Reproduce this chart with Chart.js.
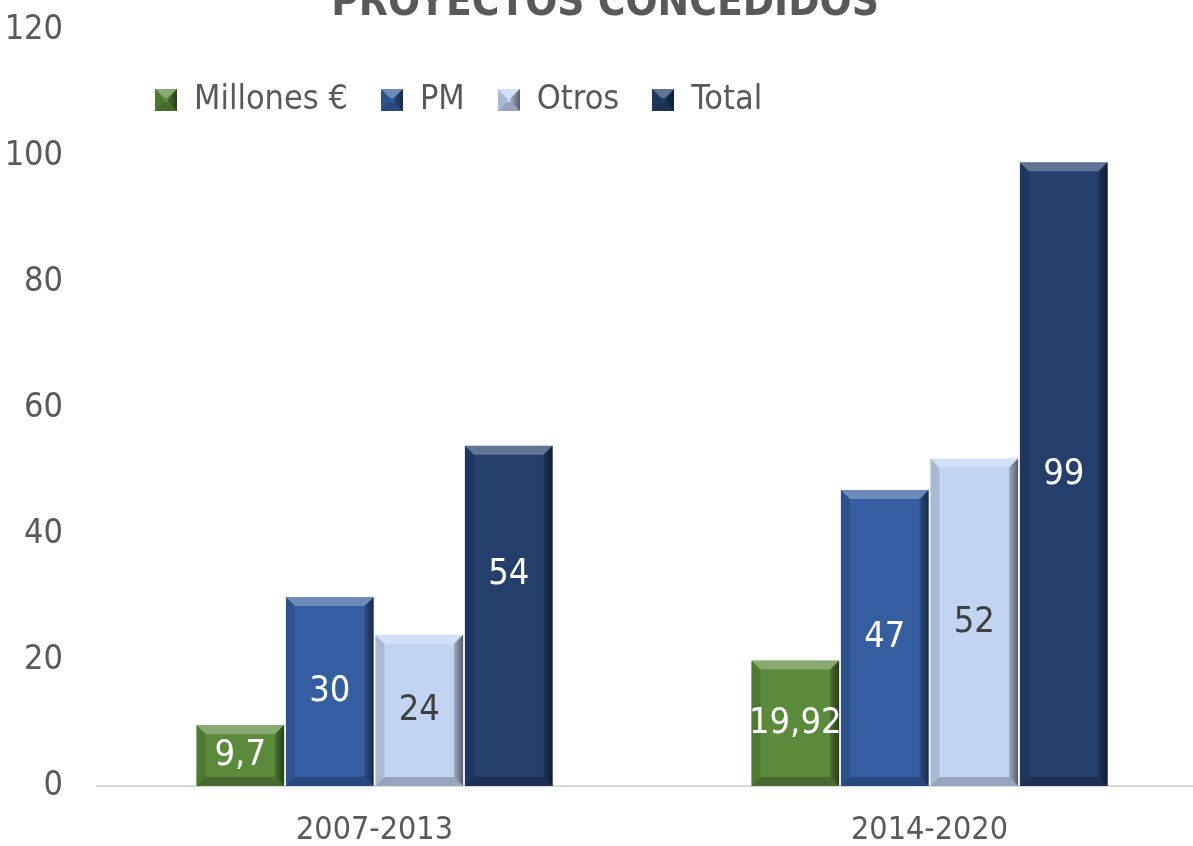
<!DOCTYPE html>
<html>
<head>
<meta charset="utf-8">
<script src="https://cdn.jsdelivr.net/npm/chart.js@4"></script>
<style>
    html, body { margin: 0; padding: 0; background: #fff; overflow: hidden; }
    #wrap { width: 1210px; height: 846px; position: relative; }
</style>
</head>
<body>
<div id="wrap"><canvas id="chart"></canvas></div>
<script>
const categories = ["2007-2013", "2014-2020"];
const seriesNames = ["Millones €", "PM", "Otros", "Total"];
const millonesValues = [9.7, 19.92];
const pmValues = [30, 47];
const otrosValues = [24, 52];
const totalValues = [54, 99];
const titleText = "PROYECTOS CONCEDIDOS";

const FONT = "'Liberation Sans Narrow', 'Arial Narrow', 'DejaVu Sans Condensed', sans-serif";
const TEXT_GREY = "#595959";

const colors = ["#5b8a3b", "#345ea0", "#c1d4f1", "#243f6c"];
const labelColors = ["#ffffff", "#ffffff", "#404040", "#ffffff"];
// small manual nudge of a few value labels (dataset, index, dy)
const labelNudges = [[3, 0, -41]];

function fmt(v) {
    return String(v).replace(".", ",");
}

function drawBevel(ctx, l, t, r, b, d) {
    ctx.save();
    ctx.fillStyle = "rgba(255,255,255,0.28)";
    ctx.beginPath();
    ctx.moveTo(l, t); ctx.lineTo(r, t); ctx.lineTo(r - d, t + d); ctx.lineTo(l + d, t + d);
    ctx.closePath(); ctx.fill();

    const g = ctx.createLinearGradient(r - d - 4, 0, r, 0);
    g.addColorStop(0, "rgba(0,0,0,0.05)");
    g.addColorStop(1, "rgba(0,0,0,0.55)");
    ctx.fillStyle = g;
    ctx.beginPath();
    ctx.moveTo(r, t); ctx.lineTo(r, b); ctx.lineTo(r - d, b - d); ctx.lineTo(r - d, t + d);
    ctx.closePath(); ctx.fill();

    ctx.fillStyle = "rgba(0,0,0,0.22)";
    ctx.beginPath();
    ctx.moveTo(l, b); ctx.lineTo(r, b); ctx.lineTo(r - d, b - d); ctx.lineTo(l + d, b - d);
    ctx.closePath(); ctx.fill();

    ctx.fillStyle = "rgba(0,0,0,0.12)";
    ctx.beginPath();
    ctx.moveTo(l, t); ctx.lineTo(l + d, t + d); ctx.lineTo(l + d, b - d); ctx.lineTo(l, b);
    ctx.closePath(); ctx.fill();
    ctx.restore();
}

// little bevelled squares for the legend
function legendSquare(color) {
    const c = document.createElement("canvas");
    c.width = 22; c.height = 22;
    const cx = c.getContext("2d");
    cx.fillStyle = color;
    cx.fillRect(0, 0, 22, 22);
    drawBevel(cx, 0, 0, 22, 22, 9);
    return c;
}

const bevelPlugin = {
    id: "bevel",
    afterDatasetsDraw(chart) {
        const { ctx } = chart;
        chart.data.datasets.forEach((ds, di) => {
            chart.getDatasetMeta(di).data.forEach((bar) => {
                const { x, y, base, width } = bar.getProps(["x", "y", "base", "width"], true);
                const d = Math.min(9, (base - y) / 2);
                drawBevel(ctx, x - width / 2, y, x + width / 2, base, d);
            });
        });
    }
};

const valueLabelPlugin = {
    id: "valueLabels",
    afterDatasetsDraw(chart) {
        const { ctx } = chart;
        ctx.save();
        ctx.font = "36px " + FONT;
        ctx.textAlign = "center";
        ctx.textBaseline = "middle";
        chart.data.datasets.forEach((ds, di) => {
            chart.getDatasetMeta(di).data.forEach((bar, i) => {
                const { x, y, base } = bar.getProps(["x", "y", "base"], true);
                let dy = 0;
                labelNudges.forEach(n => { if (n[0] === di && n[1] === i) dy = n[2]; });
                ctx.fillStyle = labelColors[di];
                ctx.fillText(fmt(ds.data[i]), x, (y + base) / 2 + dy);
            });
        });
        ctx.restore();
    }
};

const titlePlugin = {
    id: "cutTitle",
    afterDraw(chart) {
        const { ctx } = chart;
        ctx.save();
        ctx.font = "bold 42px " + FONT;
        ctx.fillStyle = TEXT_GREY;
        ctx.textAlign = "center";
        ctx.textBaseline = "alphabetic";
        ctx.fillText(titleText, 605, 15);
        ctx.restore();
    }
};

// legend overlays the plot like in excel: no reserved height, moved in afterLayout
const legendPlacePlugin = {
    id: "legendPlace",
    beforeLayout(chart) {
        const lg = chart.legend;
        if (!lg || lg._patched) return;
        const fit = lg.fit;
        lg.fit = function () {
            fit.call(this);
            this._realHeight = this.height;
            this.height = 0;
        };
        lg._patched = true;
    },
    afterLayout(chart) {
        const lg = chart.legend;
        if (!lg) return;
        const w = lg.width;
        lg.left = 122; lg.right = lg.left + w;
        lg.top = 50; lg.bottom = lg.top + (lg._realHeight || 0);
    }
};

const seriesValues = [millonesValues, pmValues, otrosValues, totalValues];

new Chart(document.getElementById("chart"), {
    type: "bar",
    data: {
        labels: categories,
        datasets: seriesNames.map((name, i) => ({
            label: name,
            data: seriesValues[i],
            backgroundColor: colors[i],
            borderWidth: 0,
            pointStyle: legendSquare(colors[i]),
            categoryPercentage: 0.645,
            barPercentage: 0.98
        }))
    },
    options: {
        responsive: true,
        maintainAspectRatio: false,
        animation: false,
        layout: { padding: { top: 30, right: 3, left: 0, bottom: 0 } },
        plugins: {
            tooltip: { enabled: false },
            title: { display: false },
            legend: {
                position: "top",
                align: "start",
                labels: {
                    color: TEXT_GREY,
                    font: { family: FONT, size: 34 },
                    usePointStyle: true,
                    boxWidth: 22,
                    boxHeight: 22,
                    padding: 33
                }
            }
        },
        scales: {
            x: {
                grid: { display: false, drawTicks: false },
                border: { display: true, color: "#d9d9d9", width: 2 },
                ticks: {
                    color: TEXT_GREY,
                    font: { family: FONT, size: 32 },
                    padding: 25
                },
                afterFit(scale) {
                    scale.height = 60;
                    scale.paddingLeft = 0;
                    scale.paddingRight = 0;
                }
            },
            y: {
                min: 0,
                max: 120,
                grid: { display: false, drawTicks: false },
                border: { display: false },
                ticks: {
                    stepSize: 20,
                    color: TEXT_GREY,
                    font: { family: FONT, size: 34 },
                    padding: 34
                },
                afterFit(scale) {
                    scale.width = 97;
                    scale.paddingTop = 0;
                    scale.paddingBottom = 0;
                }
            }
        }
    },
    plugins: [legendPlacePlugin, bevelPlugin, valueLabelPlugin, titlePlugin]
});
</script>
</body>
</html>
